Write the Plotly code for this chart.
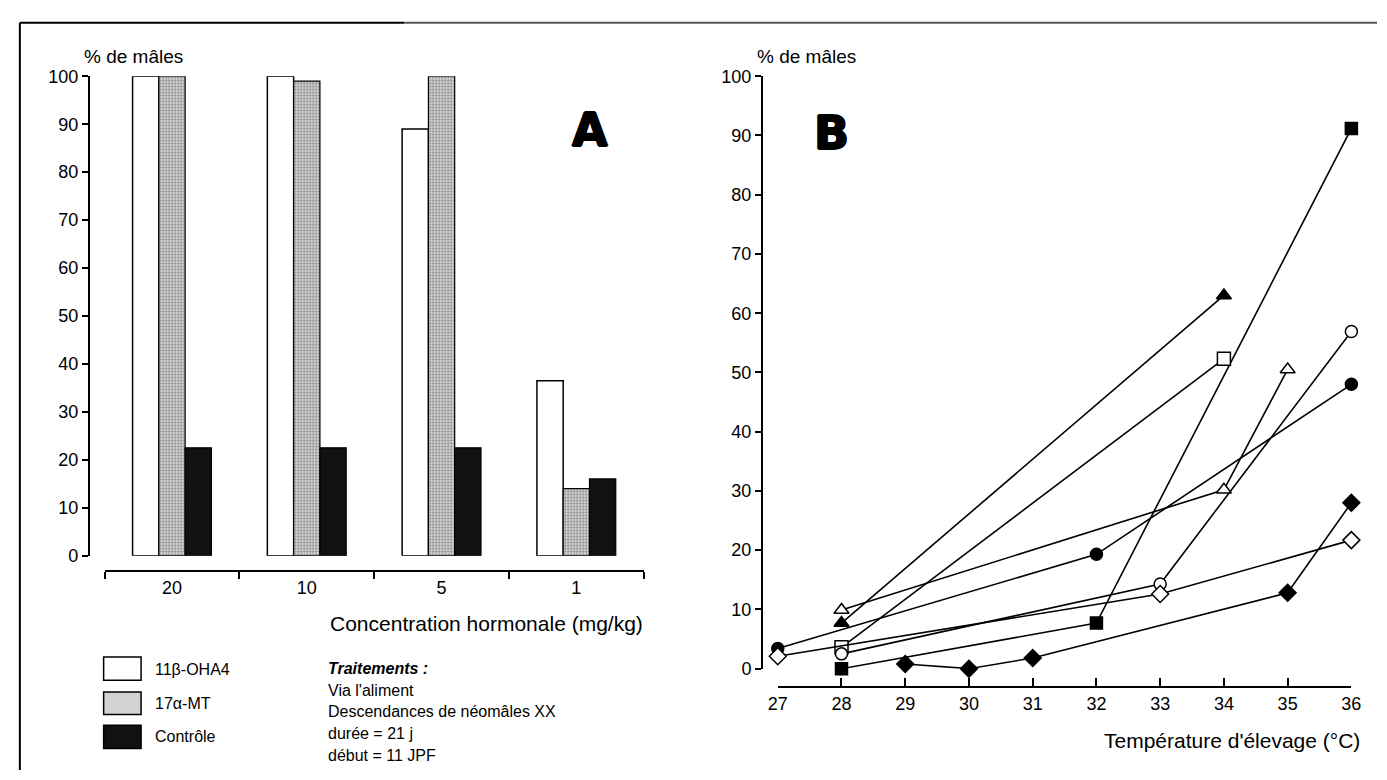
import plotly.graph_objects as go

W, H = 1387, 780


def px(x):
    return x / W


def py(y):
    return 1 - y / H


# ---------------- Panel A data ----------------
concentrations = ["20", "10", "5", "1"]
oha4 = [100, 100, 89, 36.5]
mt17 = [100, 99, 100, 14]
controle = [22.5, 22.5, 22.5, 16]
y_ticks = list(range(0, 101, 10))

# ---------------- Panel B data ----------------
temp_tri_f = [28, 34]
val_tri_f = [7.7, 63]
temp_sq_o = [28, 34]
val_sq_o = [3.6, 52.3]
temp_tri_o = [28, 34, 35]
val_tri_o = [9.9, 30.2, 50.5]
temp_sq_f = [28, 32, 36]
val_sq_f = [0, 7.7, 91.2]
temp_ci_f = [27, 32, 36]
val_ci_f = [3.4, 19.3, 48]
temp_ci_o = [28, 33, 36]
val_ci_o = [2.5, 14.3, 56.9]
temp_di_o = [27, 33, 36]
val_di_o = [2.1, 12.6, 21.7]
temp_di_f = [29, 30, 31, 35, 36]
val_di_f = [0.8, 0, 1.8, 12.8, 28]
temp_ticks = list(range(27, 37))

FONT = "Liberation Sans, Arial, Helvetica, sans-serif"
HEAVY_SHADOW = "1px 0px 0px black, -1px 0px 0px black, 0px 1px 0px black, 0px -1px 0px black"

fig = go.Figure()

# Bars
fig.add_trace(go.Bar(x=concentrations, y=oha4, name="11β-OHA4",
                     marker=dict(color="white", line=dict(color="black", width=1.5)),
                     xaxis="x", yaxis="y"))
fig.add_trace(go.Bar(x=concentrations, y=mt17, name="17α-MT",
                     marker=dict(color="#b0b0b0", line=dict(color="black", width=1.2),
                                 pattern=dict(shape=".", fgcolor="#111111", bgcolor="#e6e6e6",
                                              size=3, solidity=0.45)),
                     xaxis="x", yaxis="y"))
fig.add_trace(go.Bar(x=concentrations, y=controle, name="Contrôle",
                     marker=dict(color="#111111", line=dict(color="black", width=1.2)),
                     xaxis="x", yaxis="y"))

# Lines (panel B)
series = [
    (temp_tri_f, val_tri_f, "triangle-up", "black", 13),
    (temp_sq_f, val_sq_f, "square", "black", 12),
    (temp_ci_f, val_ci_f, "circle", "black", 12),
    (temp_di_f, val_di_f, "diamond", "black", 13),
    (temp_sq_o, val_sq_o, "square", "white", 13),
    (temp_tri_o, val_tri_o, "triangle-up", "white", 13),
    (temp_ci_o, val_ci_o, "circle", "white", 12),
    (temp_di_o, val_di_o, "diamond", "white", 13),
]
for xs, ys, sym, fill, size in series:
    fig.add_trace(go.Scatter(
        x=xs, y=ys, mode="lines+markers", xaxis="x2", yaxis="y2",
        line=dict(color="black", width=1.6),
        marker=dict(symbol=sym, color=fill, size=size, line=dict(color="black", width=1.5)),
        cliponaxis=False, showlegend=False))

axis_common = dict(showgrid=False, zeroline=False, showline=True, linecolor="black",
                   linewidth=2, tickcolor="black", tickfont=dict(size=18, family=FONT, color="black"))

annotations = [
    dict(text="% de mâles", x=px(73), y=py(48), xanchor="left", yanchor="middle",
         font=dict(size=19)),
    dict(text="% de mâles", x=px(756), y=py(48), xanchor="left", yanchor="middle",
         font=dict(size=19)),
    dict(text="<b>A</b>", x=px(588), y=py(123), xanchor="center", yanchor="middle",
         font=dict(size=46, family="DejaVu Sans", shadow=HEAVY_SHADOW)),
    dict(text="<b>B</b>", x=px(834), y=py(126), xanchor="center", yanchor="middle",
         font=dict(size=46, family="DejaVu Sans", shadow=HEAVY_SHADOW)),
    dict(text="Concentration hormonale (mg/kg)", x=px(644), y=py(630), xanchor="right",
         yanchor="middle", font=dict(size=21)),
    dict(text="Température d'élevage (°C)", x=px(1372), y=py(750), xanchor="right",
         yanchor="middle", font=dict(size=21)),
    dict(text="11β-OHA4", x=px(145), y=py(677), xanchor="left", yanchor="middle",
         font=dict(size=16)),
    dict(text="17α-MT", x=px(145), y=py(712), xanchor="left", yanchor="middle",
         font=dict(size=16)),
    dict(text="Contrôle", x=px(145), y=py(746), xanchor="left", yanchor="middle",
         font=dict(size=16)),
    dict(text="<b><i>Traitements :</i></b>", x=px(321), y=py(676), xanchor="left",
         yanchor="middle", font=dict(size=16)),
    dict(text="Via l'aliment", x=px(321), y=py(698), xanchor="left", yanchor="middle",
         font=dict(size=16)),
    dict(text="Descendances de néomâles XX", x=px(321), y=py(720), xanchor="left",
         yanchor="middle", font=dict(size=16)),
    dict(text="durée = 21 j", x=px(321), y=py(743), xanchor="left", yanchor="middle",
         font=dict(size=16)),
    dict(text="début = 11 JPF", x=px(321), y=py(765), xanchor="left", yanchor="middle",
         font=dict(size=16)),
]
for a in annotations:
    a.update(xref="paper", yref="paper", showarrow=False)

shapes = [
    # frame
    dict(type="line", x0=px(10), x1=px(400), y0=py(13), y1=py(13),
         line=dict(color="black", width=2)),
    dict(type="line", x0=px(400), x1=1, y0=py(13), y1=py(13),
         line=dict(color="#555555", width=2)),
    dict(type="line", x0=px(10), x1=px(10), y0=py(13), y1=0,
         line=dict(color="black", width=2)),
    # legend swatches
    dict(type="rect", x0=px(95), x1=px(133), y0=py(688), y1=py(664),
         fillcolor="white", line=dict(color="black", width=1.5)),
    dict(type="rect", x0=px(95), x1=px(133), y0=py(723), y1=py(700),
         fillcolor="#d2d2d2", line=dict(color="black", width=1.5)),
    dict(type="rect", x0=px(95), x1=px(133), y0=py(758), y1=py(734),
         fillcolor="#111111", line=dict(color="black", width=1.5)),
]
for s in shapes:
    s.update(xref="paper", yref="paper", layer="above")

fig.update_layout(
    width=W, height=H, autosize=False,
    margin=dict(l=0, r=0, t=0, b=0, pad=0),
    paper_bgcolor="white", plot_bgcolor="white",
    font=dict(family=FONT, color="black", size=16),
    showlegend=False,
    barmode="group", bargap=0.415, bargroupgap=0,
    xaxis=dict(domain=[px(96), px(643)], type="category", categoryorder="array",
               categoryarray=concentrations, range=[-0.5, 3.5], anchor="free",
               position=py(576), ticks="outside", ticklen=7, tickwidth=2,
               tickson="boundaries", **axis_common),
    yaxis=dict(domain=[py(560), py(68)], range=[0, 100], autorange=False,
               tickvals=y_ticks, anchor="free", position=px(80), ticks="outside",
               ticklen=6, tickwidth=1.5, **axis_common),
    xaxis2=dict(domain=[px(779), px(1361)], range=[27, 36], autorange=False,
                tickvals=temp_ticks, anchor="free", position=py(695), ticks="inside",
                ticklen=8, tickwidth=1.5, **axis_common),
    yaxis2=dict(domain=[py(676), py(68)], range=[0, 100], autorange=False,
                tickvals=y_ticks, anchor="free", position=px(763), ticks="outside",
                ticklen=6, tickwidth=1.5, **axis_common),
    annotations=annotations,
    shapes=shapes,
)

fig.write_html("out.html", config={"displayModeBar": False},
               post_script="document.body.style.margin='0';")
